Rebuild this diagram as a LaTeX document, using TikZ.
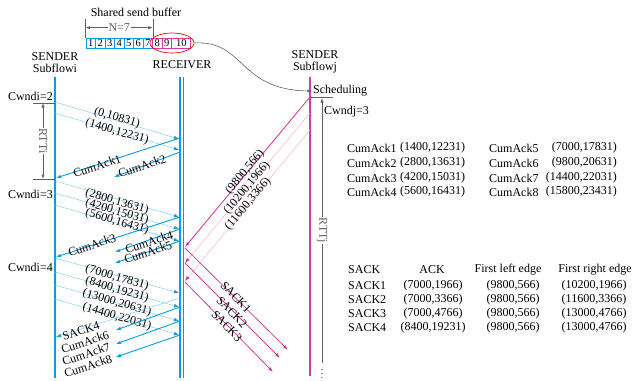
\documentclass[tikz,border=0pt]{standalone}
\usepackage{fontspec}
\setmainfont{Liberation Serif}
\usetikzlibrary{arrows.meta, positioning, calc, shapes.geometric}
\definecolor{cBlue}{RGB}{0,160,226}
\definecolor{cLightBlue}{RGB}{130,210,242}
\definecolor{cMag}{RGB}{214,60,160}
\definecolor{cPink}{RGB}{242,175,218}
\definecolor{cGrey}{RGB}{95,95,95}
\tikzset{
	lifeline/.style ={line width=1.4pt},
	datamsg/.style  ={cLightBlue, line width=0.5pt, -{Latex[length=5pt, width=3.6pt, color=cBlue]}},
	ackmsg/.style   ={cBlue, line width=0.9pt, -{Latex[length=5pt, width=3.6pt]}},
	subjmsg/.style  ={cMag, line width=0.9pt, -{Latex[length=5pt, width=3.6pt]}},
	subjfaint/.style={cPink, line width=0.5pt, -{Latex[length=5pt, width=3.6pt, color=cMag]}},
	sackmsg/.style  ={cMag, line width=0.8pt, -{Latex[length=5pt, width=3.6pt]}},
	rttbar/.style   ={cGrey, line width=0.6pt},
	gtip/.style     ={-{Latex[length=4.5pt, width=3.2pt]}},
	gboth/.style    ={{Latex[length=4.5pt, width=3.2pt]}-{Latex[length=4.5pt, width=3.2pt]}},
	cell/.style     ={draw=cBlue, line width=0.6pt, minimum width=9.5pt, minimum height=10pt, inner sep=0pt, font=\fontsize{10.5}{10.5}\selectfont},
	lbl/.style      ={inner sep=0.5pt},
	tbl/.style      ={anchor=west, inner sep=0pt},
}

\begin{document}
\begin{tikzpicture}[x=1pt, y=-1pt, font=\fontsize{12}{12}\selectfont]
\useasboundingbox (0,0) rectangle (634,380);

% shared send buffer
\node (sbuf) at (136,12) {Shared send buffer};
\foreach \k in {1,...,7}
	\node[cell] (c\k) at ({81.25+9.5*\k},43) {\k};
\node[cell, draw=cMag] (c8) at (157.25,43) {8};
\node[cell, draw=cMag] (c9) at (166.75,43) {9};
\node[cell, draw=cMag, minimum width=19pt] (c10) at (181.25,43) {10};
\node[draw=red, line width=0.7pt, ellipse, minimum width=44pt, minimum height=20pt] (sel) at (172,43) {};
\draw[rttbar] (c1.north west) -- ++(0,-19);
\draw[rttbar] (c7.north east) -- ++(0,-19);
\draw[rttbar, gboth] ($(c1.north west)+(0,-10)$) -- node[fill=white, inner sep=1pt] (nwin) {N=7} ($(c7.north east)+(0,-10)$);

% end points
\node[align=center] (hsi) at (55,63) {SENDER\\Subflowi};
\node (hrc) at (182,65) {RECEIVER};
\node[align=center] (hsj) at (315,62) {SENDER\\Subflowj};
\coordinate (si-top) at (55,77);   \coordinate (si-bot) at (55,378);
\coordinate (rb-top) at (180,77);  \coordinate (rb-bot) at (180,378);
\coordinate (rm-top) at (183.5,77); \coordinate (rm-bot) at (183.5,378);
\coordinate (sj-top) at (310,77);  \coordinate (sj-bot) at (310,376);
\draw[cBlue, lifeline] (si-top) -- (si-bot);
\draw[cBlue, line width=1.1pt] (rb-top) -- (rb-bot);
\draw[cMag, line width=1.1pt] (rm-top) -- (rm-bot);
\draw[cMag, lifeline] (sj-top) -- (sj-bot);

% scheduling on subflow j
\node[anchor=west, inner sep=1pt] (sched) at (312,91) {Scheduling};
\draw[rttbar, gtip] (sel.east) .. controls (245,40) and (238,90) .. (sched.west);
\node[anchor=west, inner sep=1pt] (cwj) at (323,112) {Cwndj=3};
\coordinate (tj1) at (310,97); \coordinate (tj2) at (333,97);
\draw[rttbar] (tj1) -- (tj2);
\coordinate (rttj-a) at (322,363); \coordinate (rttj-b) at (322,98);
\draw[rttbar, gtip] (rttj-a) -- node[fill=white, rotate=-90, inner sep=1pt] (rttj) {RTTj} (rttj-b);
\node[font=\fontsize{9}{9}\selectfont, inner sep=0pt] (more) at (322,371) {\vdots};

% RTT of subflow i
\node[anchor=east, inner sep=1pt] (cw2) at (54,96) {Cwndi=2};
\node[anchor=east, inner sep=1pt] (cw3) at (54,194) {Cwndi=3};
\node[anchor=east, inner sep=1pt] (cw4) at (54,267) {Cwndi=4};
\coordinate (ti1) at (33,103); \coordinate (ti2) at (55,103);
\coordinate (ti3) at (33,179); \coordinate (ti4) at (55,179);
\draw[rttbar] (ti1) -- (ti2);
\draw[rttbar] (ti3) -- (ti4);
\coordinate (rtti-a) at (43,103); \coordinate (rtti-b) at (43,179);
\draw[rttbar, gboth] (rtti-a) -- node[fill=white, rotate=-90, inner sep=1pt] (rtti) {RTTi} (rtti-b);

% subflow i segments
\foreach \n/\ys/\ye in {1/102/139, 2/113/150, 3/181/217, 4/193/229, 5/205/241, 6/258/293, 7/272/307, 8/285/321, 9/299/335}{
	\coordinate (di\n) at (55,\ys);
	\coordinate (dr\n) at (179,\ye);
	\draw[datamsg] (di\n) -- (dr\n);
}
\foreach \y/\t [count=\k] in {118/{(0,10831)}, 132/{(1400,12231)}, 202/{(2800,13631)}, 212/{(4200,15031)}, 222/{(5600,16431)}, 278/{(7000,17831)}, 290/{(8400,19231)}, 303/{(13000,20631)}, 317/{(14400,22031)}}
	\node[lbl, rotate=-16] (sl\k) at (117,\y) {\t};

% cumulative acks
\foreach \n/\ys/\xe/\ye in {1/138/56/178, 2/152/114/177, 3/217/56/257, 4/229/115/252, 5/241/115/263, 6/307/116/330, 7/321/116/344, 8/335/116/357}{
	\coordinate (ar\n) at (180,\ys);
	\coordinate (ae\n) at (\xe,\ye);
	\draw[ackmsg] (ar\n) -- (ae\n);
}
\coordinate (sr4) at (180,298); \coordinate (se4) at (56,337);
\draw[datamsg] (sr4) -- (se4);
\foreach \x/\y/\t in {97/166/CumAck1, 142/166/CumAck2, 92/245/CumAck3, 149/242/CumAck4, 148/252/CumAck5, 81/331/SACK4, 85/342/CumAck6, 86/354/CumAck7, 88/366/CumAck8}
	\node[lbl, rotate=18] (al-\t) at (\x,\y) {\t};

% subflow j segments and sacks
\foreach \n/\ys/\ye/\st in {1/97/247/subjmsg, 2/113/263/subjfaint, 3/130/281/subjfaint}{
	\coordinate (dj\n) at (310,\ys);
	\coordinate (rj\n) at (185,\ye);
	\draw[\st] (dj\n) -- (rj\n);
}
\foreach \x/\y/\t [count=\k] in {245/172/{(9800,566)}, 247/188/{(10200,1966)}, 248/204/{(11600,3366)}}
	\node[lbl, rotate=50] (jl\k) at (\x,\y) {\t};
\foreach \n/\ys/\xe/\ye in {1/248/288/350, 2/263/280/358, 3/282/273/372}{
	\coordinate (sk\n) at (185,\ys);
	\coordinate (ske\n) at (\xe,\ye);
	\draw[sackmsg] (sk\n) -- (ske\n);
}
\foreach \x/\y/\t in {236/297/SACK1, 232/312/SACK2, 227/326/SACK3}
	\node[lbl, rotate=-46] (sl-\t) at (\x,\y) {\t};

% cumack table
\foreach \y/\a/\va/\b/\vb in {148/CumAck1/{(1400,12231)}/CumAck5/{(7000,17831)}, 163/CumAck2/{(2800,13631)}/CumAck6/{(9800,20631)}, 178/CumAck3/{(4200,15031)}/CumAck7/{(14400,22031)}, 192/CumAck4/{(5600,16431)}/CumAck8/{(15800,23431)}}{
	\node[tbl] (t-\a) at (347,\y) {\a};
	\node[tbl] (v-\a) at (400,\y) {\va};
	\node[tbl] (t-\b) at (489,\y) {\b};
	\node[tbl, anchor=east] (v-\b) at (617,\y) {\vb};
}

% sack table
\node[tbl] (h-sack) at (348,270) {SACK};
\node (h-ack) at (432,270) {ACK};
\node (h-left) at (508,270) {First left edge};
\node (h-right) at (595,270) {First right edge};
\foreach \y/\s/\a/\l/\r in {286/SACK1/{(7000,1966)}/{(9800,566)}/{(10200,1966)}, 300/SACK2/{(7000,3366)}/{(9800,566)}/{(11600,3366)}, 314/SACK3/{(7000,4766)}/{(9800,566)}/{(13000,4766)}, 328/SACK4/{(8400,19231)}/{(9800,566)}/{(13000,4766)}}{
	\node[tbl] (r-\s) at (348,\y) {\s};
	\node (ra-\s) at (433,\y) {\a};
	\node (rl-\s) at (513,\y) {\l};
	\node (rr-\s) at (594,\y) {\r};
}
\end{tikzpicture}
\end{document}
